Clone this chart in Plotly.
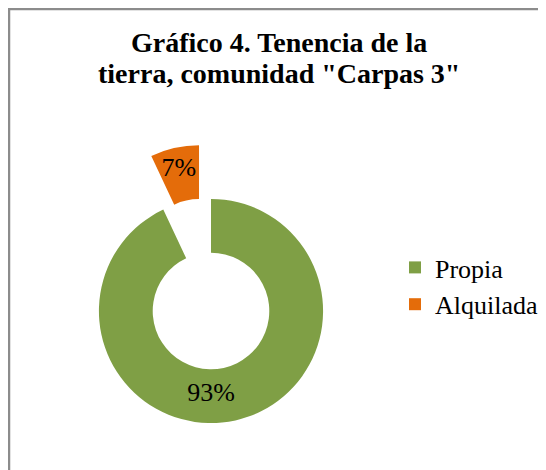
import plotly.graph_objects as go

# Data
labels = ["Propia", "Alquilada"]
values = [93, 7]
colors = ["#7F9F45", "#E46C0A"]
pulls = [0, 0.49]
title_lines = ["Gráfico 4. Tenencia de la", "tierra, comunidad \"Carpas 3\""]

W, H = 546, 470
cx, cy_top = 203, 303          # donut centre in figure pixels
half = H - cy_top              # largest half-size available

fig = go.Figure(go.Pie(
    labels=labels,
    values=values,
    marker=dict(colors=colors),
    pull=pulls,
    hole=0.52,
    sort=False,
    direction="clockwise",
    rotation=0,
    textinfo="percent",
    textposition="inside",
    insidetextorientation="horizontal",
    textfont=dict(family="Liberation Serif", size=26, color="black"),
    domain=dict(x=[(cx - half) / W, (cx + half) / W], y=[0, 2 * half / H]),
))

title_y = [34, 65]  # middle of each title line, pixels from top
annotations = [
    dict(text=line, xref="paper", yref="paper",
         x=271 / W, xanchor="center", y=1 - yy / H, yanchor="middle",
         showarrow=False,
         font=dict(family="Liberation Serif", size=28, color="black", weight="bold"))
    for line, yy in zip(title_lines, title_y)
]

fig.update_layout(
    width=W, height=H,
    margin=dict(l=0, r=0, t=0, b=0),
    paper_bgcolor="white",
    plot_bgcolor="white",
    uniformtext=dict(minsize=26, mode="show"),
    annotations=annotations,
    legend=dict(
        x=387 / W, xanchor="left",
        y=(H - 278) / H, yanchor="middle",
        font=dict(family="Liberation Serif", size=26, color="black"),
        bgcolor="rgba(0,0,0,0)",
    ),
    shapes=[dict(
        type="rect", xref="paper", yref="paper",
        x0=1 / W, x1=1.05, y0=-0.05, y1=1 - 1 / H,
        line=dict(color="#8C8C8C", width=2.5),
        layer="below",
    )],
)

fig.write_html("out.html")
